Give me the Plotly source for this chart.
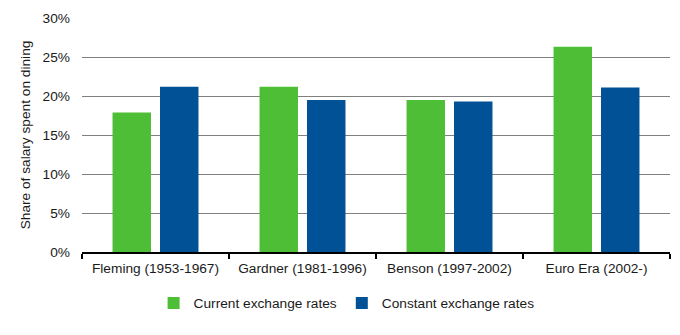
import plotly.graph_objects as go

categories = ["Fleming (1953-1967)", "Gardner (1981-1996)", "Benson (1997-2002)", "Euro Era (2002-)"]
current_rates = [0.179, 0.212, 0.195, 0.263]
constant_rates = [0.212, 0.195, 0.193, 0.211]
y_ticks = [0, 0.05, 0.10, 0.15, 0.20, 0.25, 0.30]
y_tick_labels = ["0%", "5%", "10%", "15%", "20%", "25%", "30%"]

font_family = "Liberation Sans, Arial, sans-serif"
fs = 13.7

fig = go.Figure()
fig.add_trace(go.Bar(x=categories, y=current_rates, name="Current exchange rates",
                     marker=dict(color="#4EBE37", line=dict(width=0))))
fig.add_trace(go.Bar(x=categories, y=constant_rates, name="Constant exchange rates",
                     marker=dict(color="#005195", line=dict(width=0))))

fig.update_layout(
    width=680, height=335,
    margin=dict(l=82, r=10, t=18, b=83),
    plot_bgcolor="white", paper_bgcolor="white",
    barmode="group", bargap=0.354, bargroupgap=0.19,
    font=dict(family=font_family, size=fs, color="#1a1a1a"),
    showlegend=True,
    legend=dict(orientation="h", x=0.45, xanchor="center", y=-0.218, yanchor="middle",
                font=dict(size=fs), itemwidth=30, traceorder="normal"),
    xaxis=dict(showgrid=False, showline=True, linecolor="black", linewidth=2,
               ticks="outside", tickson="boundaries", ticklen=5, tickwidth=2, tickcolor="black",
               tickfont=dict(size=fs), ticklabelstandoff=3),
    yaxis=dict(range=[0, 0.30], tickvals=y_ticks, ticktext=y_tick_labels,
               showgrid=True, gridcolor="#808080", gridwidth=1.4,
               zeroline=False, showline=False, ticks="", ticklabelstandoff=11,
               tickfont=dict(size=fs),
               title=dict(text="Share of salary spent on dining", font=dict(size=fs), standoff=8)),
)

fig.write_html("out.html")
